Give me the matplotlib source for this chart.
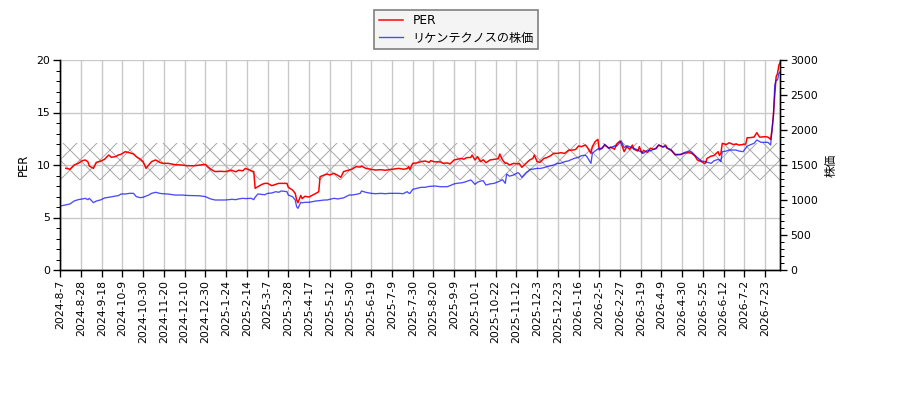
import numpy as np
import matplotlib.pyplot as plt
from matplotlib.ticker import MultipleLocator

plt.rcParams['font.family'] = ['DejaVu Sans', 'Noto Sans CJK JP']
plt.rcParams['font.size'] = 6.5
plt.rcParams['hatch.linewidth'] = 0.6

# x tick labels, one every 15 trading days
tick_labels = ['2024-8-7', '2024-8-28', '2024-9-18', '2024-10-9', '2024-10-30',
               '2024-11-20', '2024-12-10', '2024-12-30', '2025-1-24', '2025-2-14',
               '2025-3-7', '2025-3-28', '2025-4-17', '2025-5-12', '2025-5-30',
               '2025-6-19', '2025-7-9', '2025-7-30', '2025-8-20', '2025-9-9',
               '2025-10-1', '2025-10-22', '2025-11-12', '2025-12-3', '2025-12-23',
               '2026-1-16', '2026-2-5', '2026-2-27', '2026-3-19', '2026-4-9',
               '2026-4-30', '2026-5-25', '2026-6-12', '2026-7-2', '2026-7-23']
n_days = 522

# trading-day index, PER, price
day = [0, 4, 7, 10, 13, 16, 18, 20, 21, 24, 26, 29, 32, 35, 37, 40, 42, 44, 47, 50,
       53, 55, 58, 60, 62, 64, 66, 69, 72, 74, 78, 83, 88, 92, 97, 101, 105, 107, 109, 112,
       116, 119, 122, 124, 127, 129, 132, 134, 138, 140, 141, 143, 146, 148, 150, 153, 156, 158, 160, 164,
       165, 168, 170, 171, 172, 174, 175, 177, 180, 182, 185, 187, 188, 191, 193, 195, 198, 201, 203, 205,
       209, 211, 214, 217, 218, 221, 225, 228, 232, 235, 238, 240, 245, 248, 251, 252, 253, 255, 258, 261,
       264, 267, 268, 271, 275, 277, 280, 282, 285, 287, 290, 292, 294, 297, 298, 300, 302, 304, 306, 308,
       311, 314, 317, 318, 320, 322, 323, 325, 328, 331, 332, 334, 337, 339, 340, 342, 343, 345, 347, 350,
       352, 355, 357, 360, 362, 365, 368, 369, 372, 373, 375, 377, 380, 381, 384, 385, 387, 389, 390, 392,
       394, 397, 398, 400, 401, 403, 405, 406, 408, 410, 412, 414, 415, 418, 419, 420, 421, 422, 425, 427,
       429, 431, 433, 436, 438, 439, 442, 445, 449, 452, 455, 457, 459, 461, 464, 466, 467, 468, 471, 473,
       476, 477, 478, 479, 482, 484, 487, 489, 491, 494, 496, 497, 499, 502, 504, 506, 507, 510, 512, 514,
       515, 516, 517, 518, 519, 520, 521]
per = [np.nan, 9.69, 9.59, 10.0, 10.16, 10.41, 10.48, 10.3, 9.9, 9.68, 10.25, 10.35, 10.54, 10.95, 10.73, 10.8, 10.95, 11.02, 11.27, 11.17,
       11.05, 10.79, 10.54, 10.3, 9.68, 10.0, 10.32, 10.48, 10.25, 10.16, 10.16, 10.03, 10.0, 9.93, 9.93, 10.0, 10.06, 9.8, 9.59, 9.37,
       9.4, 9.37, 9.45, 9.5, 9.35, 9.5, 9.45, 9.68, 9.46, 9.37, 7.78, 7.94, 8.16, 8.25, 8.25, 8.03, 8.16, 8.25, 8.25, 8.25,
       7.87, 7.62, 7.3, 6.67, 6.41, 7.1, 6.8, 7.02, 6.95, 7.1, 7.3, 7.46, 8.89, 9.05, 9.14, 9.05, 9.21, 9.0, 8.83, 9.37,
       9.52, 9.6, 9.84, 9.8, 9.9, 9.68, 9.59, 9.52, 9.55, 9.5, 9.55, 9.59, 9.68, 9.6, 9.65, 9.84, 9.59, 10.16, 10.2, 10.32,
       10.38, 10.25, 10.41, 10.3, 10.3, 10.16, 10.2, 10.1, 10.48, 10.54, 10.63, 10.55, 10.7, 10.72, 10.95, 10.48, 10.79, 10.32, 10.5, 10.22,
       10.48, 10.54, 10.6, 11.05, 10.48, 10.16, 10.2, 10.0, 10.16, 10.1, 10.16, 9.78, 10.16, 10.41, 10.5, 10.63, 10.95, 10.32, 10.25, 10.63,
       10.7, 10.9, 11.11, 11.11, 11.17, 11.11, 11.43, 11.4, 11.45, 11.49, 11.81, 11.75, 11.9, 11.75, 11.11, 11.75, 12.22, 12.44, 11.43, 11.6,
       11.9, 11.6, 11.7, 11.6, 11.49, 12.06, 12.28, 12.0, 11.27, 11.75, 11.5, 11.9, 11.5, 11.33, 11.75, 11.4, 11.11, 11.4, 11.2, 11.6,
       11.5, 11.55, 11.9, 11.7, 11.9, 11.6, 11.43, 10.95, 11.0, 11.14, 11.17, 11.1, 10.9, 10.48, 10.32, 10.16, 10.2, 10.63, 10.85, 10.9,
       11.27, 10.9, 11.1, 12.06, 11.95, 12.12, 11.95, 12.0, 11.9, 11.95, 12.0, 12.6, 12.6, 12.66, 13.08, 12.66, 12.66, 12.7, 12.66, 12.44,
       13.33, 14.76, 16.67, 18.41, 18.73, 19.52, 19.78]
price = [914, 930, 943, 986, 1005, 1015, 1024, 1005, 1024, 962, 985, 1000, 1029, 1038, 1045, 1057, 1062, 1086, 1086, 1095,
         1095, 1048, 1033, 1040, 1055, 1071, 1095, 1110, 1095, 1090, 1085, 1071, 1071, 1065, 1062, 1060, 1048, 1030, 1014, 1000,
         1000, 1000, 1005, 1010, 1005, 1015, 1024, 1020, 1024, 1005, 1040, 1086, 1080, 1075, 1095, 1100, 1119, 1110, 1129, 1119,
         1071, 1048, 1000, 905, 881, 967, 960, 967, 967, 975, 986, 990, 992, 1000, 1000, 1010, 1024, 1015, 1024, 1030,
         1071, 1071, 1080, 1095, 1129, 1110, 1095, 1090, 1095, 1090, 1095, 1095, 1095, 1090, 1119, 1100, 1095, 1152, 1167, 1181,
         1181, 1195, 1195, 1200, 1190, 1190, 1190, 1205, 1230, 1238, 1245, 1252, 1265, 1286, 1270, 1224, 1255, 1270, 1276, 1214,
         1230, 1238, 1262, 1270, 1290, 1238, 1371, 1340, 1357, 1390, 1380, 1324, 1390, 1420, 1438, 1440, 1445, 1452, 1450, 1462,
         1476, 1490, 1500, 1524, 1524, 1548, 1560, 1571, 1595, 1600, 1610, 1633, 1640, 1620, 1524, 1667, 1700, 1729, 1735, 1740,
         1795, 1738, 1750, 1762, 1770, 1776, 1824, 1843, 1748, 1776, 1760, 1745, 1738, 1714, 1700, 1690, 1680, 1667, 1714, 1700,
         1720, 1740, 1786, 1762, 1762, 1745, 1714, 1652, 1652, 1681, 1700, 1681, 1640, 1605, 1557, 1550, 1548, 1540, 1524, 1560,
         1581, 1570, 1548, 1690, 1700, 1714, 1714, 1714, 1700, 1690, 1740, 1770, 1786, 1810, 1857, 1835, 1824, 1824, 1824, 1786,
         2000, 2190, 2643, 2714, 2714, 2810, 2833]

fig, ax = plt.subplots(figsize=(7.5, 10 / 3), dpi=120)
fig.subplots_adjust(left=0.067, right=0.867, top=0.85, bottom=0.325)
ax2 = ax.twinx()

ax.axhspan(8.6, 12.1, facecolor='none', edgecolor='#aaaaaa', hatch='xx', linewidth=0, zorder=1)
l1, = ax.plot(day, per, color='red', lw=0.9, label='PER', zorder=3)
l2, = ax2.plot(day, price, color='blue', alpha=0.7, lw=0.8, label='リケンテクノスの株価')

ax.set_xlim(0, n_days - 1)
ax.set_ylim(0, 20)
ax2.set_ylim(0, 3000)
ax.set_xticks(range(0, 15 * len(tick_labels), 15))
ax.set_xticklabels(tick_labels, rotation=90)
ax.yaxis.set_major_locator(MultipleLocator(5))
ax.yaxis.set_minor_locator(MultipleLocator(1))
ax2.yaxis.set_major_locator(MultipleLocator(500))
ax2.yaxis.set_minor_locator(MultipleLocator(100))
for a in (ax, ax2):
    a.tick_params(which='major', length=4, pad=2)
    a.tick_params(which='minor', length=2.5)
    a.spines['top'].set_visible(False)
ax.grid(True, color='#c8c8c8', lw=0.8)
ax.set_axisbelow(True)
ax.set_ylabel('PER', fontsize=7)
ax2.set_ylabel('株価', fontsize=7)

fig.legend(handles=[l1, l2], loc='upper center', bbox_to_anchor=(0.507, 0.99),
           fontsize=7.3, labelspacing=0.35, borderpad=0.35,
           fancybox=False, framealpha=1, facecolor='#f4f4f4', edgecolor='#808080')

fig.savefig('out.png')
